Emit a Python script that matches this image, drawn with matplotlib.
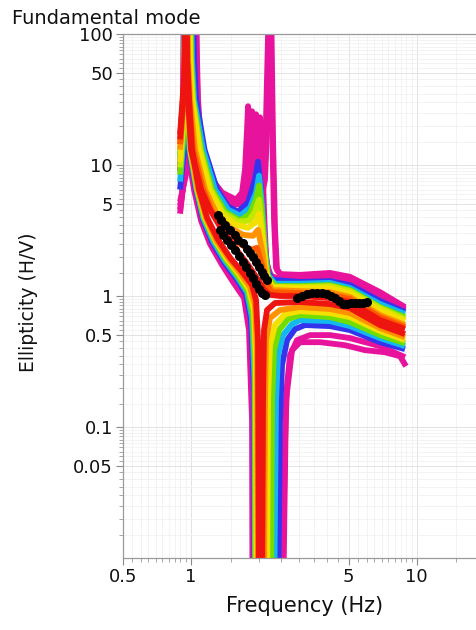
import numpy as np
import matplotlib
matplotlib.use("Agg")
import matplotlib.pyplot as plt
from matplotlib import ticker

# ---------------- data (frequency in Hz, ellipticity H/V) ----------------
x_ticks = [0.5, 1, 5, 10]
x_tick_labels = ["0.5", "1", "5", "10"]
y_ticks = [0.05, 0.1, 0.5, 1, 5, 10, 50, 100]
y_tick_labels = ["0.05", "0.1", "0.5", "1", "5", "10", "50", "100"]

# upper family (curves with the bump near 2 Hz)
mag_u1_f = [0.897, 0.953, 0.993, 1.056, 1.066, 1.077, 1.099, 1.145, 1.243, 1.376, 1.587, 1.687, 1.739, 1.775, 1.793, 1.830, 1.887, 1.985, 2.089, 2.154, 2.221, 2.290, 2.337, 2.385, 2.484, 3.045, 4.134, 5.069, 6.881, 8.877]
mag_u1_e = [4.25, 11.0, 26.6, 200, 64.3, 31.8, 18.7, 11.0, 7.74, 6.16, 5.44, 6.16, 9.24, 18.7, 28.1, 20.4, 11.0, 6.49, 7.09, 22.3, 200, 22.3, 3.82, 1.64, 1.47, 1.45, 1.50, 1.40, 1.07, 0.823]
mag_u2_f = [0.897, 0.953, 0.993, 1.050, 1.061, 1.072, 1.088, 1.134, 1.230, 1.362, 1.555, 1.687, 1.775, 1.830, 1.868, 1.906, 1.965, 2.047, 2.132, 2.198, 2.266, 2.313, 2.361, 2.409, 2.535, 3.045, 4.134, 5.069, 6.881, 8.877]
mag_u2_e = [4.56, 10.1, 23.1, 200, 64.3, 31.8, 18.7, 11.0, 7.47, 5.84, 5.07, 5.64, 7.74, 15.7, 25.7, 17.1, 8.46, 5.44, 7.74, 26.6, 200, 15.7, 3.20, 1.58, 1.42, 1.40, 1.42, 1.35, 1.02, 0.795]
mag_u3_f = [0.897, 0.953, 0.993, 1.045, 1.056, 1.066, 1.083, 1.122, 1.217, 1.348, 1.524, 1.687, 1.811, 1.887, 1.945, 1.985, 2.047, 2.110, 2.176, 2.266, 2.484, 3.045, 4.134, 5.069, 6.881, 8.877]
mag_u3_e = [4.90, 9.24, 20.4, 200, 64.3, 31.8, 18.7, 11.0, 7.09, 5.74, 5.07, 5.44, 7.09, 13.1, 24.4, 17.1, 7.74, 2.93, 1.73, 1.42, 1.35, 1.33, 1.35, 1.28, 0.965, 0.781]
mag_u4_f = [0.897, 0.953, 0.993, 1.040, 1.050, 1.061, 1.077, 1.111, 1.193, 1.321, 1.493, 1.687, 1.868, 1.965, 2.026, 2.068, 2.110, 2.154, 2.221, 2.434, 3.045, 4.134, 5.069, 6.881, 8.877]
mag_u4_e = [5.25, 8.46, 17.1, 200, 64.3, 31.8, 18.7, 11.0, 6.72, 5.35, 4.90, 5.07, 6.49, 13.1, 23.1, 13.1, 4.56, 1.96, 1.47, 1.30, 1.30, 1.33, 1.26, 0.949, 0.767]
blue_u_f = [0.897, 0.953, 1.024, 1.034, 1.056, 1.151, 1.308, 1.463, 1.619, 1.793, 1.925, 1.985, 2.047, 2.110, 2.176, 2.290, 3.045, 4.134, 5.069, 6.881, 8.877]
blue_u_e = [6.49, 18.7, 200, 64.3, 31.8, 13.1, 6.49, 4.81, 4.40, 5.16, 7.74, 10.6, 6.49, 2.69, 1.58, 1.33, 1.28, 1.30, 1.21, 0.916, 0.754]
cyan_u_f = [0.897, 0.944, 1.003, 1.013, 1.034, 1.134, 1.281, 1.463, 1.653, 1.830, 1.945, 2.006, 2.068, 2.132, 2.198, 2.361, 3.045, 4.134, 5.069, 6.881, 8.877]
cyan_u_e = [7.47, 22.3, 200, 64.3, 31.8, 13.1, 6.49, 4.56, 4.10, 4.72, 6.16, 8.31, 4.98, 2.25, 1.45, 1.24, 1.24, 1.26, 1.15, 0.868, 0.728]
green_u_f = [0.897, 0.944, 0.993, 1.003, 1.024, 1.111, 1.243, 1.419, 1.653, 1.830, 1.945, 2.006, 2.068, 2.132, 2.198, 2.385, 3.045, 4.134, 5.069, 6.881, 8.877]
green_u_e = [8.46, 26.6, 200, 64.3, 31.8, 13.1, 6.49, 4.40, 3.76, 4.25, 5.44, 6.97, 4.25, 2.06, 1.37, 1.19, 1.19, 1.21, 1.11, 0.823, 0.690]
lime_u_f = [0.897, 0.939, 0.988, 0.998, 1.019, 1.099, 1.224, 1.390, 1.619, 1.811, 1.925, 2.006, 2.068, 2.132, 2.198, 2.337, 3.045, 4.134, 5.069, 6.881, 8.877]
lime_u_e = [9.57, 29.1, 200, 64.3, 31.8, 13.1, 6.49, 4.33, 3.69, 3.76, 4.40, 5.44, 3.32, 1.82, 1.28, 1.17, 1.17, 1.19, 1.09, 0.809, 0.666]
yellow_u_f = [0.897, 0.934, 0.983, 0.993, 1.013, 1.088, 1.205, 1.376, 1.587, 1.793, 1.925, 2.006, 2.089, 2.154, 2.290, 3.045, 4.134, 5.069, 6.881, 8.877]
yellow_u_e = [10.6, 31.8, 200, 64.3, 31.8, 13.1, 6.49, 4.18, 3.50, 3.32, 3.63, 4.25, 2.59, 1.53, 1.17, 1.15, 1.15, 1.05, 0.781, 0.643]
orange_u_f = [0.897, 0.939, 0.963, 0.973, 0.993, 1.045, 1.157, 1.308, 1.493, 1.704, 1.887, 1.985, 2.068, 2.154, 2.290, 3.045, 4.134, 5.069, 6.881, 8.877]
orange_u_e = [13.1, 37.9, 200, 64.3, 31.8, 13.1, 6.49, 4.18, 3.32, 2.93, 2.88, 3.20, 2.25, 1.37, 1.11, 1.09, 1.07, 0.982, 0.715, 0.600]
orange_u2_f = [0.897, 0.939, 0.958, 0.968, 0.983, 1.024, 1.134, 1.243, 1.419, 1.619, 1.830, 1.965, 2.068, 2.154, 2.290, 3.045, 4.134, 5.069, 6.881, 8.877]
orange_u2_e = [14.4, 39.3, 200, 64.3, 31.8, 13.1, 6.49, 4.40, 3.20, 2.55, 2.25, 2.33, 1.70, 1.24, 1.07, 1.05, 1.02, 0.949, 0.690, 0.579]
red_u_f = [0.897, 0.934, 0.953, 0.963, 0.973, 1.003, 1.111, 1.217, 1.376, 1.571, 1.793, 1.985, 2.110, 2.243, 2.484, 3.045, 4.134, 5.069, 6.881, 8.877]
red_u_e = [17.1, 45.2, 200, 64.3, 31.8, 13.1, 6.49, 4.56, 3.20, 2.33, 1.73, 1.33, 1.11, 1.02, 1.00, 1.00, 0.965, 0.900, 0.655, 0.559]

# lower family (curves with the ellipticity zero near 2 Hz)
mag_l_f = [0.897, 0.925, 0.934, 0.939, 0.953, 0.973, 1.045, 1.122, 1.230, 1.390, 1.555, 1.739, 1.830, 1.887, 1.896, 2.535, 2.614, 2.668, 2.751, 2.953, 3.372, 4.134, 5.069, 6.881, 8.877]
mag_l_e = [9.57, 26.6, 200, 64.3, 31.8, 13.1, 6.49, 3.82, 2.55, 1.79, 1.33, 1.00, 0.600, 0.160, 0.004, 0.004, 0.079, 0.208, 0.353, 0.460, 0.503, 0.503, 0.477, 0.414, 0.341]
mag_l2_f = [0.897, 0.925, 0.934, 0.939, 0.948, 0.968, 1.034, 1.111, 1.217, 1.376, 1.539, 1.721, 1.811, 1.868, 1.877, 2.561, 2.641, 2.807, 3.045, 3.734, 4.817, 5.905, 7.239, 8.437, 8.968]
mag_l2_e = [8.92, 24.4, 200, 64.3, 31.8, 13.1, 6.49, 3.76, 2.50, 1.73, 1.28, 0.965, 0.549, 0.112, 0.004, 0.004, 0.160, 0.386, 0.444, 0.444, 0.421, 0.386, 0.372, 0.347, 0.291]
blue_l_f = [0.897, 0.934, 0.939, 0.944, 0.958, 0.983, 1.056, 1.134, 1.243, 1.404, 1.587, 1.757, 1.849, 1.906, 1.916, 2.434, 2.484, 2.535, 2.668, 2.894, 3.204, 4.134, 5.069, 6.881, 8.877]
blue_l_e = [10.6, 26.6, 200, 64.3, 31.8, 13.1, 6.49, 3.82, 2.59, 1.82, 1.37, 1.04, 0.655, 0.190, 0.004, 0.004, 0.112, 0.296, 0.460, 0.559, 0.600, 0.589, 0.549, 0.444, 0.393]
cyan_l_f = [0.897, 0.934, 0.944, 0.948, 0.963, 0.988, 1.061, 1.139, 1.255, 1.419, 1.603, 1.775, 1.868, 1.916, 1.925, 2.337, 2.385, 2.434, 2.561, 2.807, 3.045, 4.134, 5.069, 6.881, 8.877]
cyan_l_e = [11.4, 29.1, 200, 64.3, 31.8, 13.1, 6.49, 3.89, 2.64, 1.85, 1.40, 1.07, 0.678, 0.227, 0.004, 0.004, 0.160, 0.353, 0.503, 0.610, 0.655, 0.643, 0.589, 0.477, 0.414]
green_l_f = [0.897, 0.934, 0.944, 0.948, 0.963, 0.993, 1.066, 1.145, 1.268, 1.433, 1.619, 1.793, 1.887, 1.925, 1.935, 2.266, 2.290, 2.337, 2.459, 2.695, 3.045, 4.134, 5.069, 6.881, 8.877]
green_l_e = [12.0, 31.8, 200, 64.3, 31.8, 13.1, 6.49, 3.96, 2.69, 1.89, 1.42, 1.09, 0.715, 0.271, 0.004, 0.004, 0.160, 0.386, 0.549, 0.666, 0.715, 0.690, 0.632, 0.503, 0.436]
yellow_l_f = [0.897, 0.934, 0.948, 0.953, 0.968, 0.998, 1.072, 1.157, 1.281, 1.448, 1.636, 1.811, 1.906, 1.945, 1.955, 2.176, 2.198, 2.243, 2.361, 2.614, 3.045, 4.134, 5.069, 6.881, 8.877]
yellow_l_e = [13.1, 34.7, 200, 64.3, 31.8, 13.1, 6.49, 3.96, 2.69, 1.92, 1.47, 1.13, 0.781, 0.323, 0.004, 0.004, 0.160, 0.421, 0.600, 0.728, 0.767, 0.741, 0.690, 0.540, 0.460]
orange_l_f = [0.897, 0.934, 0.953, 0.958, 0.973, 1.003, 1.077, 1.169, 1.294, 1.463, 1.653, 1.830, 1.925, 1.965, 1.985, 2.110, 2.132, 2.154, 2.243, 2.484, 3.045, 4.134, 5.069, 6.881, 8.877]
orange_l_e = [14.4, 37.9, 200, 64.3, 31.8, 13.1, 6.49, 3.96, 2.69, 1.96, 1.50, 1.17, 0.853, 0.386, 0.004, 0.004, 0.160, 0.460, 0.678, 0.781, 0.823, 0.795, 0.741, 0.569, 0.485]
red_l_f = [0.897, 0.934, 0.958, 0.963, 0.983, 1.013, 1.088, 1.181, 1.321, 1.493, 1.687, 1.868, 1.945, 1.985, 2.006, 2.068, 2.089, 2.110, 2.176, 2.361, 3.045, 4.134, 5.069, 6.881, 8.877]
red_l_e = [15.7, 41.4, 200, 64.3, 31.8, 13.1, 6.49, 3.96, 2.69, 1.96, 1.53, 1.21, 0.932, 0.460, 0.004, 0.004, 0.160, 0.549, 0.781, 0.884, 0.900, 0.868, 0.809, 0.600, 0.512]

# measured ellipticity (black dots)
obs1_f = [1.321, 1.362, 1.419, 1.493, 1.571, 1.619, 1.704, 1.775, 1.830, 1.887, 1.945, 2.006, 2.068, 2.110, 2.176]
obs1_e = [4.18, 3.82, 3.50, 3.20, 2.93, 2.69, 2.55, 2.29, 2.14, 1.99, 1.82, 1.67, 1.53, 1.42, 1.33]
obs2_f = [1.348, 1.390, 1.448, 1.508, 1.571, 1.636, 1.704, 1.757, 1.830, 1.887, 1.945, 2.006, 2.068, 2.132]
obs2_e = [3.20, 2.93, 2.69, 2.46, 2.25, 2.03, 1.82, 1.67, 1.50, 1.37, 1.24, 1.13, 1.05, 1.02]
obs3_f = [2.953, 3.108, 3.270, 3.441, 3.621, 3.811, 4.010, 4.177, 4.350, 4.531, 4.720, 4.916, 5.121, 5.334, 5.555, 5.786, 6.027]
obs3_e = [0.965, 1.00, 1.04, 1.05, 1.05, 1.05, 1.04, 1.00, 0.965, 0.916, 0.868, 0.868, 0.884, 0.884, 0.884, 0.884, 0.900]

# ---------------- styling ----------------
C_MAG = "#e8139c"
C_BLUE = "#3434ee"
C_CYAN = "#12b8ee"
C_GREEN = "#72de00"
C_LIME = "#c2e800"
C_YELLOW = "#f4e000"
C_ORANGE = "#ff9200"
C_ORANGE2 = "#ff5a00"
C_RED = "#ee1410"

curves = [
    (mag_u1_f, mag_u1_e, C_MAG), (mag_u2_f, mag_u2_e, C_MAG),
    (mag_u3_f, mag_u3_e, C_MAG), (mag_u4_f, mag_u4_e, C_MAG),
    (mag_l_f, mag_l_e, C_MAG), (mag_l2_f, mag_l2_e, C_MAG),
    (blue_u_f, blue_u_e, C_BLUE), (blue_l_f, blue_l_e, C_BLUE),
    (cyan_u_f, cyan_u_e, C_CYAN), (cyan_l_f, cyan_l_e, C_CYAN),
    (green_u_f, green_u_e, C_GREEN), (green_l_f, green_l_e, C_GREEN),
    (lime_u_f, lime_u_e, C_LIME),
    (yellow_u_f, yellow_u_e, C_YELLOW), (yellow_l_f, yellow_l_e, C_YELLOW),
    (orange_u_f, orange_u_e, C_ORANGE), (orange_l_f, orange_l_e, C_ORANGE),
    (orange_u2_f, orange_u2_e, C_ORANGE2),
    (red_l_f, red_l_e, C_RED), (red_u_f, red_u_e, C_RED),
]

plt.rcParams["font.family"] = ["DejaVu Sans"]

fig = plt.figure(figsize=(4.76, 6.3), dpi=100)
ax = fig.add_axes([122.7 / 476, 72 / 630, (476 - 122.7) / 476, 524 / 630])
ax.set_xscale("log")
ax.set_yscale("log")

for i, (f, e, c) in enumerate(curves):
    ax.plot(f, e, color=c, lw=4.2, solid_joinstyle="round",
            solid_capstyle="butt", zorder=2 + i * 0.01)

for f, e in [(obs1_f, obs1_e), (obs2_f, obs2_e), (obs3_f, obs3_e)]:
    ax.plot(f, e, "o", color="black", ms=5.5, mec="black", zorder=5)

ax.set_xlim(0.5, 18.3)
ax.set_ylim(0.01, 100)

ax.xaxis.set_major_locator(ticker.FixedLocator(x_ticks))
ax.xaxis.set_major_formatter(ticker.FixedFormatter(x_tick_labels))
ax.yaxis.set_major_locator(ticker.FixedLocator(y_ticks))
ax.yaxis.set_major_formatter(ticker.FixedFormatter(y_tick_labels))
subs = np.arange(1.5, 10.0, 0.5)
ax.xaxis.set_minor_locator(ticker.LogLocator(base=10, subs=subs, numticks=40))
ax.yaxis.set_minor_locator(ticker.LogLocator(base=10, subs=subs, numticks=40))
ax.xaxis.set_minor_formatter(ticker.NullFormatter())
ax.yaxis.set_minor_formatter(ticker.NullFormatter())

ax.tick_params(which="major", direction="out", length=5, width=0.8,
               color="#8a8a8a", labelsize=13, pad=2, labelcolor="#111111")
ax.tick_params(which="minor", direction="out", length=3, width=0.6,
               color="#9a9a9a")
ax.tick_params(axis="x", which="both", top=False)
ax.tick_params(axis="y", which="both", right=False)

ax.set_axisbelow(True)
ax.grid(True, which="major", color="#dedede", lw=0.6)
ax.grid(True, which="minor", color="#efefef", lw=0.5)

for side in ("left", "bottom", "top"):
    ax.spines[side].set_color("#9a9a9a")
    ax.spines[side].set_linewidth(0.9)
ax.spines["right"].set_visible(False)

fig.text(12 / 476, 1 - 24 / 630, "Fundamental mode", fontsize=14,
         ha="left", va="baseline", color="#111111")
fig.text(305 / 476, 1 - 612 / 630, "Frequency (Hz)", fontsize=15,
         ha="center", va="baseline", color="#111111")
fig.text(29 / 476, 1 - 302 / 630, "Ellipticity (H/V)", fontsize=13.5,
         rotation=90, ha="center", va="center", color="#111111")

fig.savefig("out.png", dpi=100)
